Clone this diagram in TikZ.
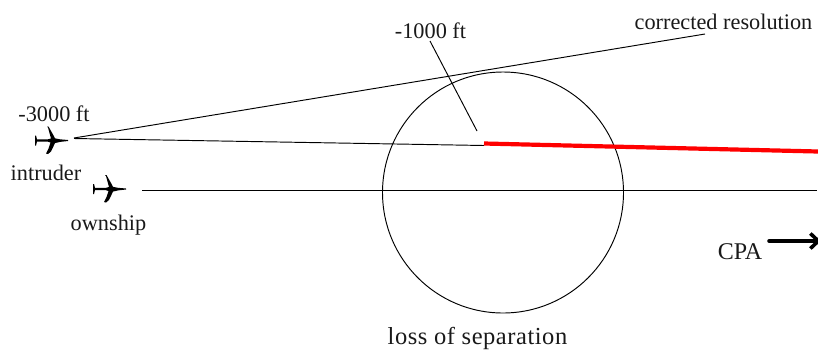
\documentclass[tikz,border=0pt]{standalone}
\usepackage{fontspec}
\setmainfont{Liberation Serif}
\newfontfamily\widefont[LetterSpace=2.2]{Liberation Serif}
\usetikzlibrary{arrows.meta}
\tikzset{
  lbl/.style={inner sep=0pt,font=\fontsize{22.3}{25}\selectfont,text=black!90},
  thinline/.style={draw=black,line width=0.95pt},
  redline/.style={draw=red,line width=4.2pt},
  plane/.pic={
    \fill[black] (-33,-1) -- (-33,-5) -- (-32,-5) -- (-31,-1.2) -- (-20,-1.2) -- (-17,-2) -- (-20,-13) -- (-21,-14) -- (-19.5,-14) -- (-15,-6) -- (-13,-2.2) -- (-8,-1.2) -- (0,-0.5) -- (0,0.5) -- (-8,1.4) -- (-13,2.6) -- (-17,11) -- (-20,13.5) -- (-22,13) -- (-19.5,8) -- (-17.5,2) -- (-20,1.2) -- (-31,1) -- (-32,5) -- (-33,5) -- cycle;
  }
}
\begin{document}
\begin{tikzpicture}[x=1pt,y=-1pt]
\useasboundingbox (0,0) rectangle (818,349);
\pic at (68,140.5) {plane};
\pic at (126,189) {plane};
\coordinate (i1) at (74,138);
\coordinate (i2) at (74,138.5);
\coordinate (res) at (705,34);
\coordinate (mid) at (484,145.5);
\coordinate (redstart) at (484,143.5);
\coordinate (far) at (818,151.5);
\coordinate (own) at (142,190.4);
\coordinate (ownend) at (817,190.4);
\coordinate (k1) at (430,41);
\coordinate (k2) at (477,131);
\coordinate (cpa1) at (769,241);
\coordinate (cpa2) at (821,241);
\node[draw=black,line width=0.95pt,circle,minimum size=241pt,inner sep=0pt] (sep) at (503,192.5) {};
\draw[thinline] (i1) -- (res);
\draw[thinline] (i2) -- (mid);
\draw[thinline] (own) -- (ownend);
\draw[thinline] (k1) -- (k2);
\draw[redline] (redstart) -- (far);
\draw[black,line width=3.6pt,line cap=round,-{Straight Barb[length=8pt,width=15pt]}] (cpa1) -- (cpa2);
\node[lbl] (t1) at (430.5,31) {-1000 ft};
\node[lbl] (t2) at (723.5,21.5) {corrected resolution};
\node[lbl] (t3) at (54,113.5) {-3000 ft};
\node[lbl] (t4) at (46,172.5) {intruder};
\node[lbl] (t5) at (108.5,225) {ownship};
\node[lbl,font=\fontsize{24}{26}\selectfont] (t6) at (740,251.5) {CPA};
\node[lbl,font=\widefont\fontsize{24.5}{26}\selectfont] (t7) at (477.5,338) {loss of separation};
\end{tikzpicture}
\end{document}
